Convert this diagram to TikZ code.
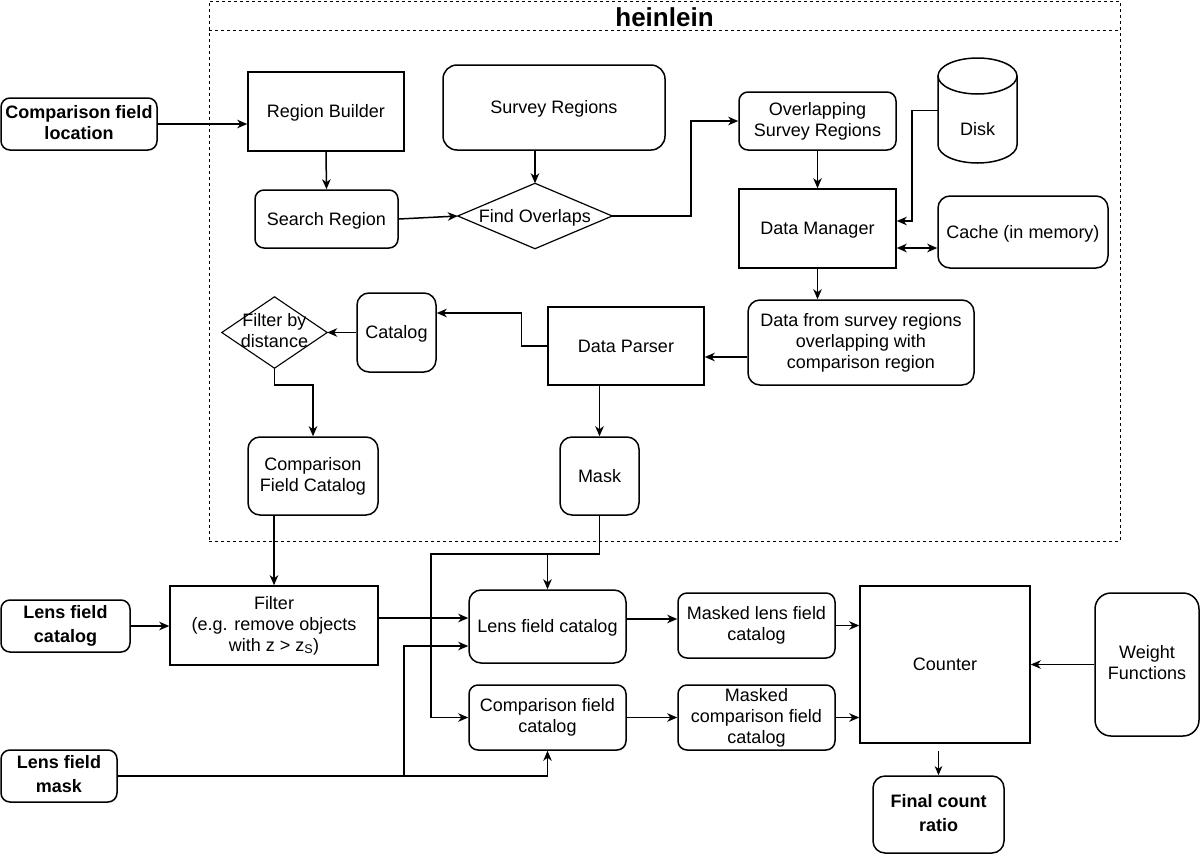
\documentclass[tikz,border=0pt]{standalone}
\usepackage{fontspec}
\setmainfont{Liberation Sans}
\usetikzlibrary{arrows.meta,calc}
\newcommand\mystrutx{\rule[-3.8pt]{0pt}{20.1pt}}
\tikzset{
  base/.style={font=\fontsize{18}{21}\selectfont, align=center, inner sep=0pt,
    execute at begin node=\mystrutx, execute at end node=\mystrutx},
  sq/.style={base, draw, line width=1.5pt},
  rnd/.style={sq, rounded corners=9pt},
  bold/.style={font=\fontsize{18}{24}\selectfont\bfseries},
  boldtight/.style={font=\fontsize{18}{21}\selectfont\bfseries},
  sz/.style 2 args={minimum width=#1pt, minimum height=#2pt},
  arr/.style={line width=1.5pt, -{Stealth[length=10pt,width=8.5pt,inset=3pt]}},
  arrtwo/.style={line width=1.5pt, {Stealth[length=10pt,width=8.5pt,inset=3pt]}-{Stealth[length=10pt,width=8.5pt,inset=3pt]}},
  dsh/.style={line width=1pt, dash pattern=on 3pt off 3pt},
}
\begin{document}
\begin{tikzpicture}[x=1pt,y=-1pt]
\useasboundingbox (0,0) rectangle (1200,855);
% container
\node[draw, dsh, inner sep=0pt, minimum width=911pt, minimum height=540pt] (cont) at (664.5,271) {};
\coordinate (hl) at (209,30);
\coordinate (hr) at (1120,30);
\draw[dsh] (hl) -- (hr);
\node[font=\fontsize{26}{30}\selectfont\bfseries, inner sep=0pt] (title) at (664.5,17) {heinlein};

% nodes
\node[rnd,boldtight,sz={156}{52}] (cfl) at (79,124) {Comparison field\\location};
\node[sq,sz={156}{79}] (rb) at (326,111.5) {Region Builder};
\node[rnd,sz={143}{58}] (sr) at (326.5,219) {Search Region};
\node[rnd,sz={222}{85},rounded corners=14pt] (svr) at (554,107.5) {Survey Regions};
\node[base,sz={154}{65}] (fo) at (535,216) {Find Overlaps};
\draw[line width=1.2pt] (fo.west) -- (fo.north) -- (fo.east) -- (fo.south) -- cycle;
\node[rnd,sz={157}{58}] (osr) at (817.5,121) {Overlapping\\Survey Regions};
% disk (cylinder)
\node[base,sz={79}{105}] (disk) at (977.5,110.5) {};
\draw[line width=1.5pt] (977.5,76) ellipse[x radius=39.5pt, y radius=18pt];
\draw[line width=1.5pt] (938,76) -- (938,145) arc[start angle=180, end angle=360, x radius=39.5pt, y radius=18pt] -- (1017,76);
\node[base] (disktext) at (977.5,129) {Disk};
\node[sq,sz={157}{79}] (dm) at (817.5,228.5) {Data Manager};
\node[rnd,sz={170}{72},rounded corners=12pt] (cache) at (1023,232) {Cache (in memory)};
\node[rnd,sz={226}{85},rounded corners=12pt] (dfs) at (861,342.5) {Data from survey regions\\overlapping with\\comparison region};
\node[sq,sz={156}{78}] (dp) at (626,346) {Data Parser};
\node[rnd,sz={79}{79},rounded corners=12pt] (cat) at (396.5,332.5) {Catalog};
\node[base,sz={105}{71}] (fd) at (274.5,332.5) {Filter by\\distance};
\draw[line width=1.1pt] (fd.west) -- (fd.north) -- (fd.east) -- (fd.south) -- cycle;
\node[rnd,sz={130}{78},rounded corners=12pt] (cfc) at (313,476) {Comparison\\Field Catalog};
\node[rnd,sz={79}{78},rounded corners=12pt] (mask) at (599.5,476) {Mask};
\node[sq,sz={208}{79}] (filt) at (274,625.5) {Filter\\(e.g. remove objects\\with z > z\textsubscript{S})};
\node[rnd,bold,sz={129}{52}] (lfcat) at (65.5,626) {Lens field\\catalog};
\node[rnd,bold,sz={116}{52}] (lfm) at (59,776) {Lens field\\mask};
\node[rnd,sz={157}{73},rounded corners=12pt] (lfc) at (547.5,626.5) {Lens field catalog};
\node[rnd,sz={157}{65}] (ccat) at (547.5,717.5) {Comparison field\\catalog};
\node[rnd,sz={157}{65}] (mlfc) at (756.5,625.5) {Masked lens field\\catalog};
\node[rnd,sz={157}{65}] (mcfc) at (756.5,717.5) {Masked\\comparison field\\catalog};
\node[sq,sz={170}{157}] (counter) at (945,664.5) {Counter};
\node[rnd,sz={104}{143},rounded corners=16pt] (wf) at (1147,664.5) {Weight\\Functions};
\node[rnd,bold,sz={131}{77},rounded corners=12pt] (fcr) at (938.5,814.5) {Final count\\ratio};

% connectors
\draw[arr] (cfl.east) -- (cfl.east -| rb.west);
\draw[arr] (rb.south) -- (sr.north);
\draw[arr] (sr.east) -- (fo.west);
\draw[arr] (fo.north |- svr.south) -- (fo.north);
\draw[arr] (fo.east) -- ++(79,0) |- (osr.west);
\draw[arr] (osr.south) -- (dm.north);
\draw[arr] (disk.west) -- ++(-26,0) |- ([yshift=7.5pt]dm.east);
\draw[arrtwo] ([yshift=-19.5pt]dm.east) -- ([yshift=-19.5pt]dm.east -| cache.west);
\draw[arr] (dm.south) -- (dm.south |- dfs.north);
\draw[arr] ([yshift=-14.5pt]dfs.west) -- ([yshift=-14.5pt]dfs.west -| dp.east);
\draw[arr] (dp.west) -- ++(-26,0) |- ([yshift=19.5pt]cat.east);
\draw[arr] (cat.west) -- (fd.east);
\draw[arr] (fd.south) -- ++(0,17) -| (cfc.north);
\draw[arr] (mask.north |- dp.south) -- (mask.north);
\draw[arr] (filt.north |- cfc.south) -- (filt.north);
\draw[arr] (lfcat.east) -- (lfcat.east -| filt.west);
\draw[arr] ([yshift=7.5pt]filt.east) -- ([yshift=7.5pt]filt.east -| lfc.west);
\coordinate (mj) at (431,554);
\draw[arr] (mask.south) |- (mj) |- (ccat.west);
\draw[arr] (lfc.north |- mj) -- (lfc.north);
\coordinate (lj) at (404,776);
\draw[arr] (lfm.east) -| (ccat.south);
\draw[arr] (lj) |- ([yshift=-19.5pt]lfc.west);
\draw[arr] ([yshift=7.5pt]lfc.east) -- ([yshift=7.5pt]lfc.east -| mlfc.west);
\draw[arr] (ccat.east) -- (mcfc.west);
\draw[arr] (mlfc.east) -- (mlfc.east -| counter.west);
\draw[arr] (mcfc.east) -- (mcfc.east -| counter.west);
\draw[arr] (wf.west) -- (counter.east);
\draw[line width=1.2pt, -{Stealth[length=9pt,width=7.5pt,inset=2.5pt]}] ([yshift=-7pt]counter.south -| fcr.north) -- (fcr.north);
\end{tikzpicture}
\end{document}
